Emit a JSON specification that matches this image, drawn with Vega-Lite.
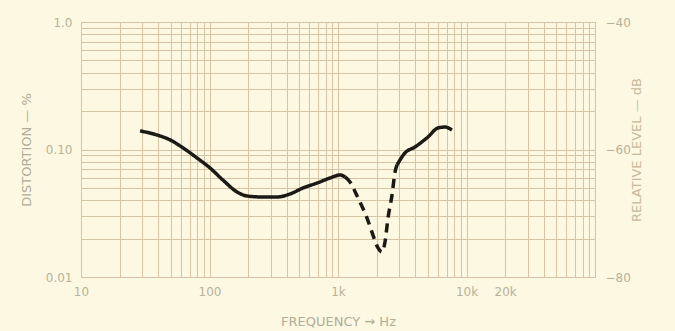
{
  "$schema": "https://vega.github.io/schema/vega-lite/v6.json",
  "width": 514,
  "height": 255,
  "autosize": "none",
  "padding": {"left": 81, "top": 22, "right": 80, "bottom": 54},
  "background": "#fcf8e2",
  "config": {
    "view": {"stroke": "#d3c2a4", "strokeWidth": 1},
    "axis": {
      "labelFont": "DejaVu Sans",
      "labelFontSize": 12,
      "labelColor": "#b9b19a",
      "titleFont": "DejaVu Sans",
      "titleFontSize": 13,
      "titleFontWeight": "normal",
      "titleColor": "#b0ad98",
      "gridColor": "#d6c4a5",
      "gridOpacity": 1,
      "gridWidth": 1,
      "domain": false,
      "ticks": false,
      "labelOverlap": false,
      "labelBound": false,
      "labelFlush": false
    }
  },
  "layer": [
    {
      "data": {
        "values": [
          {"f": 28.8, "v": 0.140, "seg": "a", "style": "solid"},
          {"f": 39.0, "v": 0.130, "seg": "a", "style": "solid"},
          {"f": 49.3, "v": 0.119, "seg": "a", "style": "solid"},
          {"f": 62.2, "v": 0.103, "seg": "a", "style": "solid"},
          {"f": 80.0, "v": 0.0858, "seg": "a", "style": "solid"},
          {"f": 101, "v": 0.0716, "seg": "a", "style": "solid"},
          {"f": 127, "v": 0.0577, "seg": "a", "style": "solid"},
          {"f": 164, "v": 0.0464, "seg": "a", "style": "solid"},
          {"f": 196, "v": 0.0432, "seg": "a", "style": "solid"},
          {"f": 261, "v": 0.0424, "seg": "a", "style": "solid"},
          {"f": 335, "v": 0.0424, "seg": "a", "style": "solid"},
          {"f": 423, "v": 0.0448, "seg": "a", "style": "solid"},
          {"f": 534, "v": 0.0499, "seg": "a", "style": "solid"},
          {"f": 687, "v": 0.0546, "seg": "a", "style": "solid"},
          {"f": 867, "v": 0.0598, "seg": "a", "style": "solid"},
          {"f": 1038, "v": 0.0631, "seg": "a", "style": "solid"},
          {"f": 1134, "v": 0.0609, "seg": "a", "style": "solid"},
          {"f": 1134, "v": 0.0609, "seg": "b", "style": "dashed"},
          {"f": 1240, "v": 0.0556, "seg": "b", "style": "dashed"},
          {"f": 1431, "v": 0.0417, "seg": "b", "style": "dashed"},
          {"f": 1682, "v": 0.0290, "seg": "b", "style": "dashed"},
          {"f": 1872, "v": 0.0213, "seg": "b", "style": "dashed"},
          {"f": 2048, "v": 0.0169, "seg": "b", "style": "dashed"},
          {"f": 2199, "v": 0.0157, "seg": "b", "style": "dashed"},
          {"f": 2321, "v": 0.0188, "seg": "b", "style": "dashed"},
          {"f": 2450, "v": 0.0290, "seg": "b", "style": "dashed"},
          {"f": 2633, "v": 0.0440, "seg": "b", "style": "dashed"},
          {"f": 2779, "v": 0.0667, "seg": "b", "style": "dashed"},
          {"f": 2880, "v": 0.0756, "seg": "b", "style": "dashed"},
          {"f": 2880, "v": 0.0756, "seg": "c", "style": "solid"},
          {"f": 3319, "v": 0.0939, "seg": "c", "style": "solid"},
          {"f": 3972, "v": 0.1047, "seg": "c", "style": "solid"},
          {"f": 5012, "v": 0.1254, "seg": "c", "style": "solid"},
          {"f": 5998, "v": 0.1475, "seg": "c", "style": "solid"},
          {"f": 6800, "v": 0.150, "seg": "c", "style": "solid"},
          {"f": 7709, "v": 0.142, "seg": "c", "style": "solid"}
        ]
      },
      "mark": {"type": "line", "color": "#1c1a14", "strokeWidth": 3.5, "interpolate": "monotone", "strokeCap": "butt"},
      "encoding": {
        "x": {
          "field": "f", "type": "quantitative",
          "scale": {"type": "log", "domain": [10, 100000], "nice": false},
          "axis": {
            "title": "FREQUENCY ⇝ Hz",
            "values": [10,20,30,40,50,60,70,80,90,100,200,300,400,500,600,700,800,900,1000,2000,3000,4000,5000,6000,7000,8000,9000,10000,20000,30000,40000,50000,60000,70000,80000,90000,100000],
            "labelExpr": "datum.value == 10 ? '10' : datum.value == 100 ? '100' : datum.value == 1000 ? '1k' : datum.value == 10000 ? '10k' : datum.value == 20000 ? '20k' : ''",
            "labelPadding": 9,
            "titlePadding": 18
          }
        },
        "y": {
          "field": "v", "type": "quantitative",
          "scale": {"type": "log", "domain": [0.01, 1], "nice": false},
          "axis": {
            "title": "DISTORTION — %",
            "values": [0.01,0.02,0.03,0.04,0.05,0.06,0.07,0.08,0.09,0.1,0.2,0.3,0.4,0.5,0.6,0.7,0.8,0.9,1],
            "labelExpr": "datum.value == 1 ? '1.0' : datum.value == 0.1 ? '0.10' : datum.value == 0.01 ? '0.01' : ''",
            "labelPadding": 9,
            "titlePadding": 12
          }
        },
        "detail": {"field": "seg"},
        "strokeDash": {
          "field": "style", "type": "nominal",
          "scale": {"domain": ["solid", "dashed"], "range": [[1, 0], [9, 6]]},
          "legend": null
        }
      }
    },
    {
      "data": {"values": [{"db": -80}, {"db": -40}]},
      "mark": {"type": "point", "opacity": 0},
      "encoding": {
        "y": {
          "field": "db", "type": "quantitative",
          "scale": {"domain": [-80, -40], "nice": false},
          "axis": {
            "orient": "right",
            "title": "RELATIVE LEVEL — dB",
            "titleAngle": 270,
            "values": [-80, -60, -40],
            "grid": false,
            "labelPadding": 10,
            "titlePadding": 13,
            "titleColor": "#c9b99c"
          }
        }
      }
    }
  ],
  "resolve": {"scale": {"y": "independent"}}
}
